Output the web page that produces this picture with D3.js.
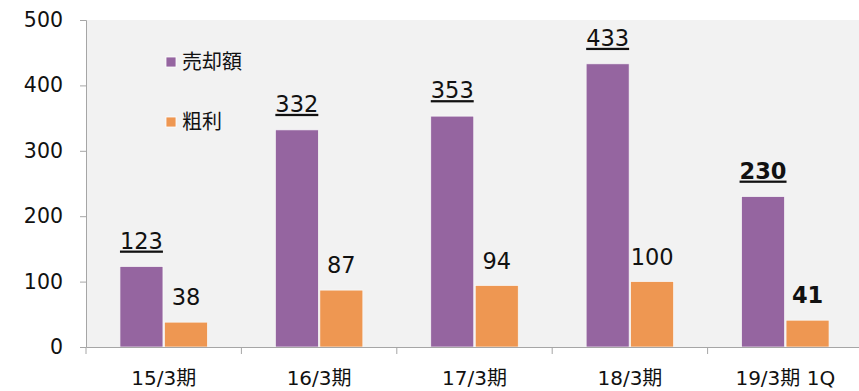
<!DOCTYPE html>
<html>
<head>
<meta charset="utf-8">
<script src="https://cdn.jsdelivr.net/npm/d3@7/dist/d3.min.js"></script>
<style>
body{margin:0;background:#fff;}
text{font-family:"DejaVu Sans","Noto Sans CJK JP",sans-serif;fill:#111;}
</style>
</head>
<body>
<div id="chart"></div>
<script>
var categories=["15/3期","16/3期","17/3期","18/3期","19/3期 1Q"]
var sales=[123,332,353,433,230]
var profit=[38,87,94,100,41]
var seriesNames=["売却額","粗利"]
var yTicks=[0,100,200,300,400,500]

var width=859, height=391
var svg=d3.select("#chart").append("svg").attr("width",width).attr("height",height)

var x=d3.scaleBand().domain(categories).range([86,863])
var y=d3.scaleLinear().domain([0,500]).range([347,20])

// plot background
svg.append("rect").attr("x",86).attr("y",20).attr("width",width-86).attr("height",327).attr("fill","#f2f2f2")

var barW=43, gap=1.5
function off(i){ return x.bandwidth()/2 + (i==0 ? -barW-gap/2 : gap/2) }

var colors=["#9565a0","#ee9752"]
var series=[sales,profit]
series.forEach(function(vals,s){
	svg.append("g").selectAll("rect").data(vals).enter().append("rect")
		.attr("x",function(d,i){return x(categories[i])+off(s)})
		.attr("y",function(d){return y(d)})
		.attr("width",barW)
		.attr("height",function(d){return y(0)-y(d)})
		.attr("fill",colors[s])
		.attr("stroke","#fafafa").attr("stroke-width",0.7)
})

// axes
var yAxis=svg.append("g").attr("transform","translate(86,0)")
	.call(d3.axisLeft(y).tickValues(yTicks).tickSize(6).tickPadding(17))
yAxis.select(".domain").attr("stroke","#a6a6a6")
yAxis.selectAll(".tick line").attr("stroke","#a6a6a6")
yAxis.selectAll("text").style("font-size","20.5px").attr("fill","#111")

var xAxis=svg.append("g").attr("transform","translate(0,347)")
	.call(d3.axisBottom(x).tickSize(0).tickPadding(24))
xAxis.select(".domain").attr("stroke","#a6a6a6")
xAxis.selectAll("text").style("font-size","20px").attr("fill","#111")
var bounds=categories.map(function(c){return x(c)})
svg.append("g").selectAll("line").data(bounds).enter().append("line")
	.attr("x1",function(d){return d}).attr("x2",function(d){return d})
	.attr("y1",347).attr("y2",354).attr("stroke","#a6a6a6")

// labels
sales.forEach(function(d,i){
	var last=i==sales.length-1
	svg.append("text")
		.attr("x",x(categories[i])+off(0)+barW/2)
		.attr("y",y(d)-18)
		.attr("text-anchor","middle")
		.style("font-size","22.5px")
		.style("font-weight",last?"bold":"normal")
		.style("text-decoration","underline")
		.text(d)
})
profit.forEach(function(d,i){
	var last=i==profit.length-1
	svg.append("text")
		.attr("x",x(categories[i])+off(1)+barW/2)
		.attr("y",y(d)-17)
		.attr("text-anchor","middle")
		.style("font-size","22.5px")
		.style("font-weight",last?"bold":"normal")
		.text(d)
})

// legend
var legend=svg.append("g")
seriesNames.forEach(function(n,i){
	var ly=62+i*60
	legend.append("rect").attr("x",166).attr("y",ly-5).attr("width",10).attr("height",10).attr("fill",colors[i]).attr("stroke","#fff").attr("stroke-width",0.8)
	legend.append("text").attr("x",182).attr("y",ly+7).style("font-size","20px").text(n)
})
</script>
</body>
</html>
